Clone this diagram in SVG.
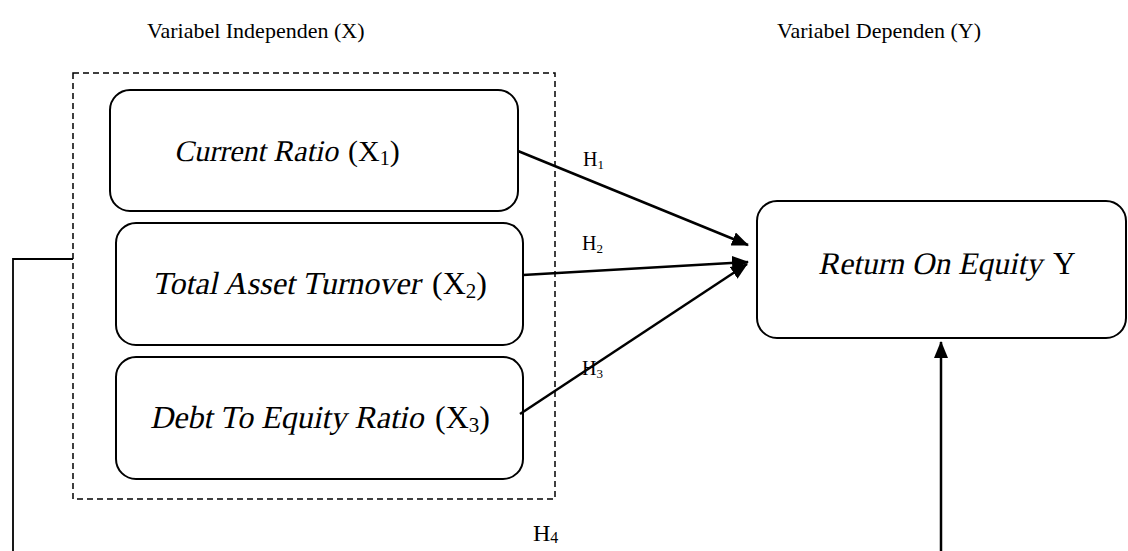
<svg xmlns="http://www.w3.org/2000/svg" width="1128" height="551" viewBox="0 0 1128 551">
<defs>
<style>
text{font-family:"Liberation Serif","Times New Roman",serif;fill:#000}
.t{font-size:22px}
.n{font-size:30px}
.b{font-size:32px}
.s{font-size:20px}
.s2{font-size:21px}
.h{font-size:20px}
.box{fill:#fff;stroke:#000;stroke-width:2}
.ln{fill:none;stroke:#000;stroke-width:2.5}
</style>
<marker id="ah" viewBox="0 0 17 14" refX="16" refY="7" markerWidth="17" markerHeight="14" markerUnits="userSpaceOnUse" orient="auto">
<path d="M0,0 L17,7 L0,14 z" fill="#000"/>
</marker>
</defs>
<rect width="1128" height="551" fill="#fff"/>
<text class="t" x="147" y="38">Variabel Independen (X)</text>
<text class="t" x="777" y="38">Variabel Dependen (Y)</text>
<rect id="group" x="73" y="73" width="482" height="426" fill="none" stroke="#000" stroke-width="1.5" stroke-dasharray="6,4"/>
<g id="x1"><rect class="box" x="110" y="90" width="408" height="121" rx="20"/>
<text class="n" transform="translate(174,161) skewX(-12)">Current Ratio</text>
<text class="n" x="348" y="161">(X<tspan class="s" dy="4">1</tspan><tspan dy="-4">)</tspan></text></g>
<g id="x2"><rect class="box" x="116" y="223" width="407" height="122" rx="20"/>
<text class="b" transform="translate(152,294) skewX(-12)">Total Asset Turnover</text>
<text class="b" x="432" y="294">(X<tspan class="s2" dy="4">2</tspan><tspan dy="-4">)</tspan></text></g>
<g id="x3"><rect class="box" x="116" y="357" width="407" height="122" rx="20"/>
<text class="b" transform="translate(150,428) skewX(-12)">Debt To Equity Ratio</text>
<text class="b" x="435" y="428">(X<tspan class="s2" dy="4">3</tspan><tspan dy="-4">)</tspan></text></g>
<g id="y"><rect class="box" x="757" y="201" width="369" height="137" rx="20"/>
<text class="n" style="font-size:31.5px" transform="translate(818,274) skewX(-12)">Return On Equity</text>
<text class="n" style="font-size:31.5px" x="1053" y="274">Y</text></g>
<g id="connectors">
<line class="ln" x1="518" y1="151" x2="748" y2="245" marker-end="url(#ah)"/>
<line class="ln" x1="523" y1="275" x2="748" y2="262" marker-end="url(#ah)"/>
<line class="ln" x1="520" y1="414" x2="747" y2="264" marker-end="url(#ah)"/>
<polyline points="73,259 13,259 13,551" fill="none" stroke="#000" stroke-width="1.8"/>
<line class="ln" x1="941" y1="551" x2="941" y2="342" marker-end="url(#ah)"/>
</g>
<text class="h" x="583" y="166">H<tspan font-size="13" dy="3">1</tspan></text>
<text class="h" x="582" y="250">H<tspan font-size="13" dy="3">2</tspan></text>
<text class="h" x="582" y="375">H<tspan font-size="13" dy="3">3</tspan></text>
<text font-size="24" x="533" y="541">H<tspan font-size="16" dy="2">4</tspan></text>
</svg>
